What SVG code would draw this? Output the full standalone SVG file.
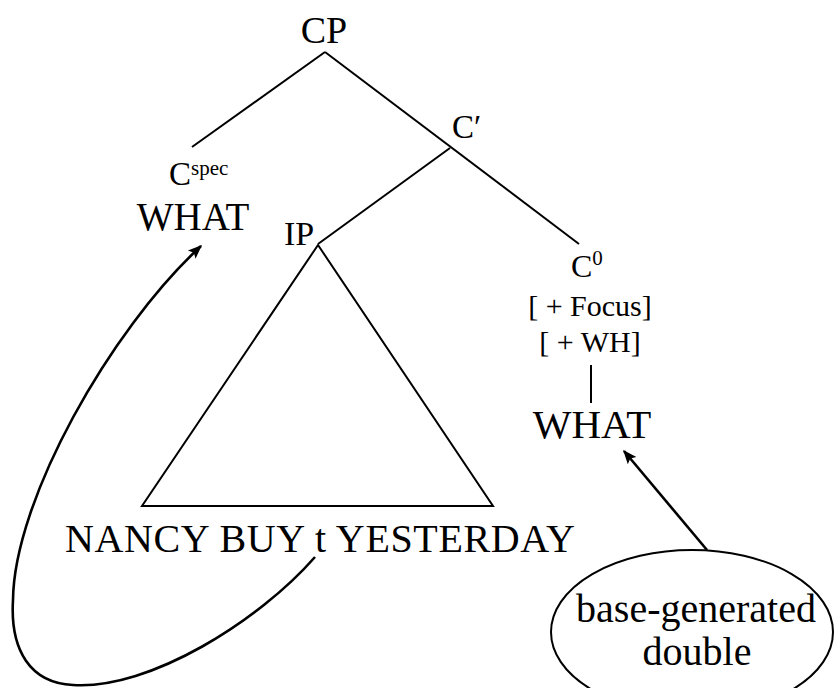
<svg xmlns="http://www.w3.org/2000/svg" width="835" height="688" viewBox="0 0 835 688" font-family="'Liberation Serif', 'DejaVu Serif', serif">
<defs>
<style>
text{font-family:'Liberation Serif','DejaVu Serif',serif;fill:#000}
.ln{stroke:#000;stroke-width:2;fill:none}
.arr{stroke:#000;stroke-width:2.6;fill:none}
</style>
<marker id="ah2" viewBox="0 0 10 10" refX="9" refY="5" markerWidth="14" markerHeight="14" orient="auto" markerUnits="userSpaceOnUse">
<path d="M0,1 L10,5 L0,9 L2,5 z" fill="#000"/>
</marker>
</defs>
<rect width="835" height="688" fill="#fff"/>
<g id="connectors">
<line class="ln" x1="325" y1="52" x2="192" y2="147"/>
<line class="ln" x1="325" y1="52" x2="579" y2="244"/>
<line class="ln" x1="450" y1="148" x2="318" y2="244"/>
<polygon class="ln" points="318,245 142,506 493,506"/>
<line class="ln" x1="591" y1="365" x2="591" y2="403"/>
<line class="arr" x1="707" y1="550" x2="624" y2="451" marker-end="url(#ah2)"/>
<path class="arr" d="M315,557 C260,620 150,690 73,685 C30,683 10,650 13,600 C14,500 110,330 201,246" marker-end="url(#ah2)"/>
</g>
<g id="CP"><text x="324" y="43" font-size="38" text-anchor="middle">CP</text></g>
<g id="Cbar"><text x="452" y="138" font-size="33">C′</text></g>
<g id="Cspec"><text x="169" y="185" font-size="33">C<tspan font-size="21" dy="-10">spec</tspan></text></g>
<g id="WHAT-spec"><text x="193" y="230" font-size="39" text-anchor="middle">WHAT</text></g>
<g id="IP"><text x="284" y="245" font-size="34">IP</text></g>
<g id="IP-content"><text x="65" y="552" font-size="40" textLength="510" lengthAdjust="spacing">NANCY BUY t YESTERDAY</text></g>
<g id="C0"><text x="571" y="277" font-size="32">C<tspan font-size="21" dy="-12">0</tspan></text></g>
<g id="features">
<text x="590" y="316" font-size="30" text-anchor="middle">[ + Focus]</text>
<text x="590" y="352" font-size="30" text-anchor="middle">[ + WH]</text>
</g>
<g id="WHAT-head"><text x="592" y="438" font-size="41" text-anchor="middle">WHAT</text></g>
<g id="double">
<ellipse class="ln" cx="692" cy="632" rx="141" ry="82"/>
<text x="696" y="622" font-size="40" text-anchor="middle">base-generated</text>
<text x="697" y="665" font-size="40" text-anchor="middle">double</text>
</g>
</svg>
